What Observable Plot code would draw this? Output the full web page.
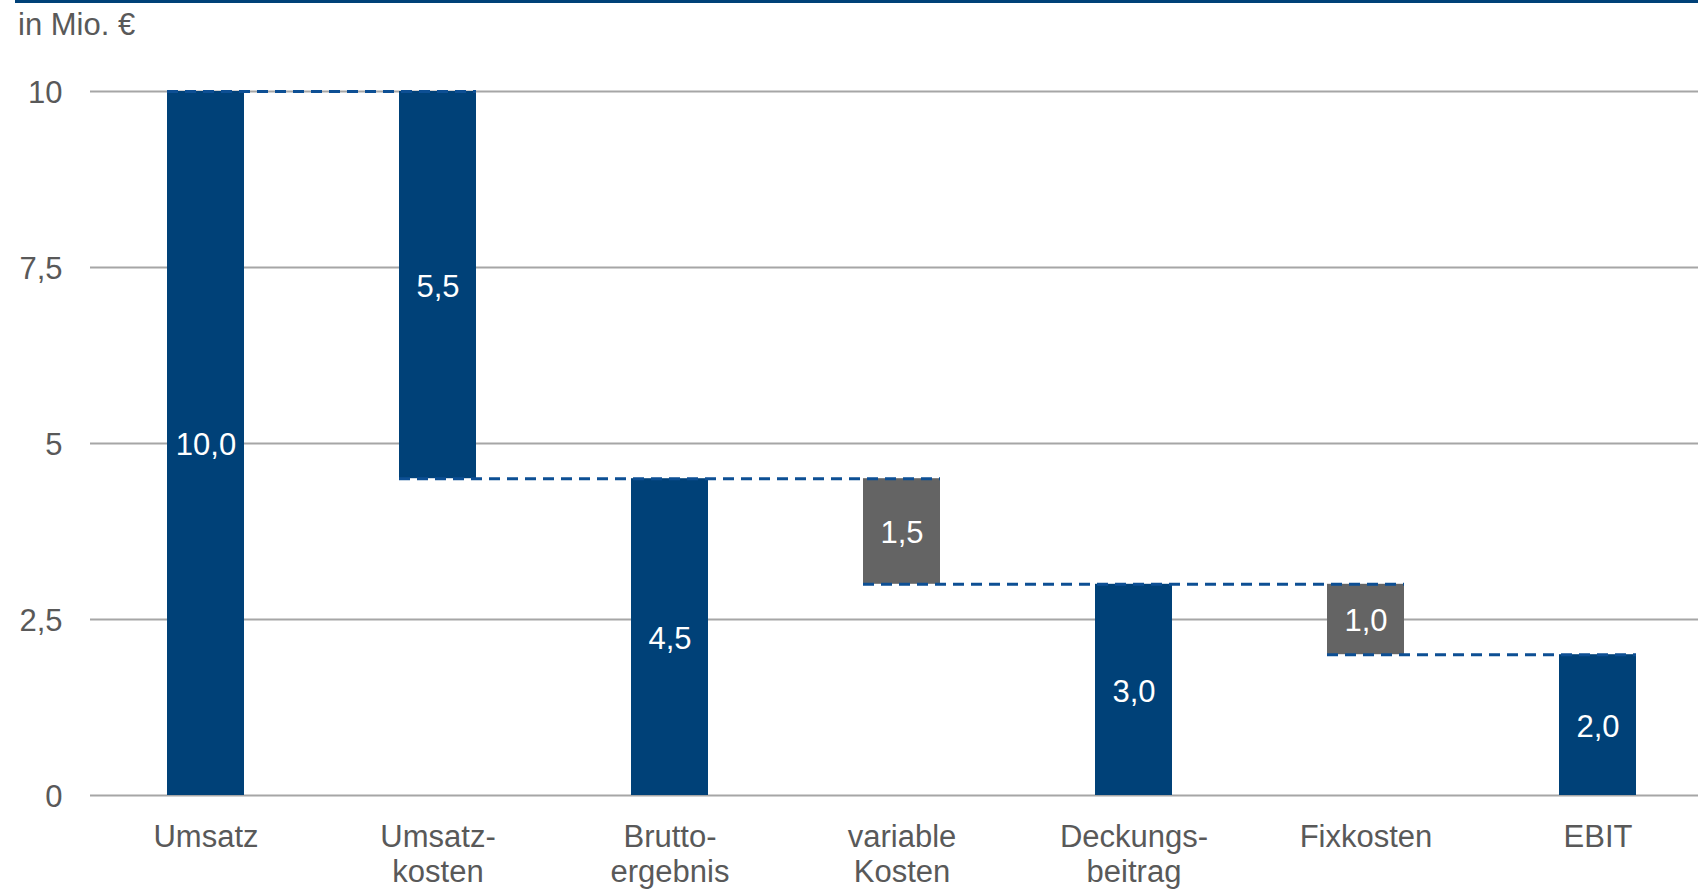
<!DOCTYPE html>
<html lang="de">
<head>
<meta charset="utf-8">
<script src="https://cdn.jsdelivr.net/npm/d3@7"></script>
<script src="https://cdn.jsdelivr.net/npm/@observablehq/plot@0.6"></script>
<style>
  html, body { margin: 0; padding: 0; background: #fff; }
  body { width: 1698px; height: 889px; overflow: hidden; font-family: "Liberation Sans", Arial, sans-serif; }
  #kopf { margin-left: 15px; border-top: 3px solid #004178; height: 42px; position: relative; }
  #einheit { position: absolute; left: 3px; top: 6px; font-size: 31px; line-height: 31px; color: #595959; }
  #diagramm svg { display: block; }
</style>
</head>
<body>
<div id="kopf"><span id="einheit">in Mio. €</span></div>
<div id="diagramm"></div>
<script>
// Ergebnisrechnung als Wasserfall (in Mio. €)
const kategorien = ["Umsatz", "Umsatzkosten", "Bruttoergebnis", "variable Kosten", "Deckungsbeitrag", "Fixkosten", "EBIT"];
const achsenTexte = ["Umsatz", "Umsatz-\nkosten", "Brutto-\nergebnis", "variable\nKosten", "Deckungs-\nbeitrag", "Fixkosten", "EBIT"];
const werte = [10.0, 5.5, 4.5, 1.5, 3.0, 1.0, 2.0];
// "summe" steht ab 0, "abzug" hängt am laufenden Stand
const arten = ["summe", "abzug", "summe", "abzug", "summe", "abzug", "summe"];
// Farbgruppe je Balken
const gruppen = ["Ergebnis", "Ergebnis", "Ergebnis", "Kosten", "Ergebnis", "Kosten", "Ergebnis"];
const yTicks = [0, 2.5, 5, 7.5, 10];

// Balkenenden aus dem laufenden Stand
let stand = 0;
const balken = kategorien.map((k, i) => {
  let unten, oben;
  if (arten[i] === "summe") { unten = 0; oben = werte[i]; stand = werte[i]; }
  else { oben = stand; unten = stand - werte[i]; stand = unten; }
  return { kategorie: k, wert: werte[i], unten, oben, gruppe: gruppen[i], art: arten[i] };
});

// Verbindungslinien: Oberkante des ersten Abzugs, dann jede Abzugs-Unterkante bis zum nächsten Abzug bzw. Endwert
const abzugIdx = balken.map((b, i) => b.art === "abzug" ? i : -1).filter(i => i >= 0);
const verbinder = [];
abzugIdx.forEach((i, n) => {
  if (n === 0) verbinder.push({ von: kategorien[i - 1], bis: kategorien[i], niveau: balken[i].oben });
  const ziel = n + 1 < abzugIdx.length ? abzugIdx[n + 1] : kategorien.length - 1;
  verbinder.push({ von: kategorien[i], bis: kategorien[ziel], niveau: balken[i].unten });
});

const komma = (d, stellen) => (stellen == null ? String(d) : d.toFixed(stellen)).replace(".", ",");

const chart = Plot.plot({
  width: 1698,
  height: 844,
  marginTop: 46,
  marginBottom: 94,
  marginLeft: 90,
  marginRight: 0,
  style: { fontFamily: "'Liberation Sans', Arial, sans-serif", fontSize: "31px", color: "#595959", background: "#fff" },
  x: { type: "band", domain: kategorien, range: [90, 1714], paddingInner: 0.667, paddingOuter: 0.3335 },
  y: { domain: [0, 10] },
  color: { domain: ["Ergebnis", "Kosten"], range: ["#004178", "#646464"] },
  marks: [
    Plot.ruleY(yTicks, { stroke: "#a6a6a6", strokeWidth: 2 }),
    Plot.barY(balken, { x: "kategorie", y1: "unten", y2: "oben", fill: "gruppe" }),
    Plot.ruleY(verbinder, { x1: "von", x2: "bis", y: "niveau", stroke: "#0d4f94", strokeWidth: 3, strokeDasharray: "11,7" }),
    Plot.text(balken, {
      x: "kategorie",
      y: d => (d.unten + d.oben) / 2,
      text: d => komma(d.wert, 1),
      fill: "#fff",
      fontSize: 31,
      dy: 2
    }),
    Plot.axisY({ ticks: yTicks, tickFormat: d => komma(d), tickSize: 0, tickPadding: 28, fontSize: 31, dy: 1.5, label: null }),
    Plot.axisX({ tickFormat: d => achsenTexte[kategorien.indexOf(d)], tickSize: 0, tickPadding: 26, fontSize: 31, lineHeight: 1.15, label: null })
  ]
});

document.getElementById("diagramm").appendChild(chart);
</script>
</body>
</html>
